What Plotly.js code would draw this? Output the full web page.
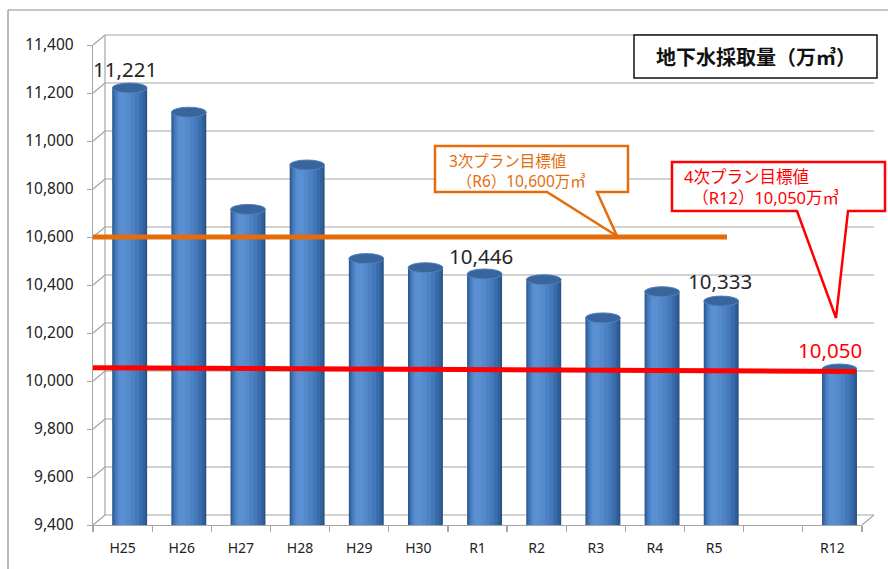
<!DOCTYPE html>
<html>
<head>
<meta charset="utf-8">
<script src="https://cdn.plot.ly/plotly-3.0.1.min.js"></script>
<style>html,body{margin:0;padding:0;background:#fff;}#chart{width:888px;height:569px;}</style>
</head>
<body>
<div id="chart"></div>
<script>
// ---- data ----
var categories = ["H25","H26","H27","H28","H29","H30","R1","R2","R3","R4","R5"," ","R12"];
var values = [11221, 11120, 10715, 10900, 10510, 10472, 10446, 10422, 10263, 10372, 10333, null, 10050];
var labelIndex = [0, 6, 10, 12];
var labelText = ["11,221", "10,446", "10,333", "10,050"];
var yTicks = [9400, 9600, 9800, 10000, 10200, 10400, 10600, 10800, 11000, 11200, 11400];
var plan3Value = 10600;
var plan4Value = 10050;
var chartTitle = "地下水採取量（万㎥）";
var plan3Lines = ["3次プラン目標値", "（R6）10,600万㎥"];
var plan4Lines = ["4次プラン目標値", "（R12）10,050万㎥"];

// ---- geometry helpers (plot area pixels) ----
var L = 93, R = 862, T = 45, B = 525;
var W = R - L, H = B - T;
var yMin = 9400, yMax = 11400;
function fx(px){ return (px - L) / W; }
function fy(py){ return (B - py) / H; }
function vy(v){ return (v - yMin) / (yMax - yMin); }
var dX = 12 / W, dY = 10 / H;

// ---- bars: layered to fake a cylinder gradient ----
var layers = [
  {off:-0.175, w:0.59, c:"#2A5284"},
  {off:-0.163, w:0.55, c:"#31619C"},
  {off:-0.148, w:0.49, c:"#3A6CAC"},
  {off:-0.128, w:0.41, c:"#4378BA"},
  {off:-0.105, w:0.32, c:"#4C82C4"},
  {off:-0.080, w:0.22, c:"#548ACC"},
  {off:-0.055, w:0.12, c:"#5A90D2"}
];
var traces = layers.map(function(l){
  return {type:"bar", x:categories, y:values, offset:l.off, width:l.w,
          marker:{color:l.c, line:{width:0}}, hoverinfo:"skip", showlegend:false};
});

var shapes = [];
// outer frame
shapes.push({type:"line", xref:"paper", yref:"paper", x0:fx(8), x1:fx(888), y0:fy(10), y1:fy(10), line:{color:"#8C8C8C", width:1.2}, layer:"below"});
shapes.push({type:"line", xref:"paper", yref:"paper", x0:fx(8), x1:fx(8), y0:fy(10), y1:fy(569), line:{color:"#8C8C8C", width:1.2}, layer:"below"});
// back wall gridlines + diagonal connectors
yTicks.forEach(function(v){
  shapes.push({type:"line", xref:"paper", yref:"paper", x0:dX, x1:1+dX, y0:vy(v)+dY, y1:vy(v)+dY, line:{color:"#A6A6A6", width:1.2}, layer:"below"});
  shapes.push({type:"line", xref:"paper", yref:"paper", x0:0, x1:dX, y0:vy(v), y1:vy(v)+dY, line:{color:"#A6A6A6", width:1.2}, layer:"below"});
});
// back wall left edge
shapes.push({type:"line", xref:"paper", yref:"paper", x0:dX, x1:dX, y0:dY, y1:1+dY, line:{color:"#A6A6A6", width:1.2}, layer:"below"});
// floor right edge
shapes.push({type:"line", xref:"paper", yref:"paper", x0:1, x1:1+dX, y0:0, y1:dY, line:{color:"#A6A6A6", width:1.2}, layer:"below"});

// bar top ellipses
values.forEach(function(v, i){
  if (v === null) return;
  shapes.push({type:"circle", xref:"x", yref:"y", x0:i-0.175, x1:i+0.415,
    ysizemode:"pixel", yanchor:v, y0:-5, y1:5,
    fillcolor:"#3A659C", line:{color:"#5082BE", width:1}, layer:"above"});
});

// target lines
shapes.push({type:"line", xref:"paper", yref:"y", x0:0, x1:fx(727), y0:plan3Value, y1:plan3Value, line:{color:"#E46C0A", width:5}, layer:"above"});
shapes.push({type:"line", xref:"paper", yref:"y", x0:0, x1:fx(856), y0:plan4Value+5, y1:plan4Value-10, line:{color:"#FF0000", width:5}, layer:"above"});

// callouts
function pathFrom(pts){
  return pts.map(function(p, k){ return (k ? "L" : "M") + fx(p[0]).toFixed(4) + "," + fy(p[1]).toFixed(4); }).join(" ") + " Z";
}
var tip3 = B - (plan3Value - yMin) / (yMax - yMin) * H;
shapes.push({type:"path", xref:"paper", yref:"paper",
  path: pathFrom([[435,146],[628,146],[628,192],[597,192],[617,tip3-1],[547,192],[435,192]]),
  fillcolor:"#FFFFFF", line:{color:"#E46C0A", width:2.5}, layer:"above"});
shapes.push({type:"path", xref:"paper", yref:"paper",
  path: pathFrom([[672,162],[885,162],[885,211],[848,211],[836,318],[797,211],[672,211]]),
  fillcolor:"#FFFFFF", line:{color:"#FF0000", width:2.5}, layer:"above"});
// title box
shapes.push({type:"rect", xref:"paper", yref:"paper", x0:fx(634), x1:fx(877), y0:fy(35), y1:fy(78),
  fillcolor:"#FFFFFF", line:{color:"#111111", width:1.5}, layer:"above"});

var annotations = [];
var shifts = [[2,19],[3,18],[6,20],[-2,19]];
labelIndex.forEach(function(idx, k){
  annotations.push({xref:"x", yref:"y", x:categories[idx], y:values[idx], text:labelText[k],
    showarrow:false, xshift:shifts[k][0], yshift:shifts[k][1],
    font:{family:"'Noto Sans', 'Open Sans', sans-serif", size:20.5, color: idx === 12 ? "#FF0000" : "#262626"}});
});
var cjk = "'Noto Sans', 'Noto Sans CJK JP', sans-serif";
function cjkNote(text, px, py, size, color, anchor){
  return {xref:"paper", yref:"paper", x:fx(px), y:fy(py), xanchor:anchor || "left", yanchor:"middle",
    align:"left", text:text, showarrow:false, font:{family:cjk, size:size, color:color}};
}
annotations.push(cjkNote("<b>"+chartTitle+"</b>", 756, 57, 20, "#111", "center"));
annotations.push(cjkNote(plan3Lines[0] + "<br>\u2002" + plan3Lines[1], 447, 170.5, 15.5, "#E46C0A"));
annotations.push(cjkNote(plan4Lines[0] + "<br>\u2002" + plan4Lines[1], 682, 186.5, 16.5, "#FF0000"));

var layout = {
  width:888, height:569,
  margin:{l:L, r:888-R, t:T, b:569-B, pad:0},
  paper_bgcolor:"#FFFFFF", plot_bgcolor:"rgba(0,0,0,0)",
  barmode:"overlay", showlegend:false, hovermode:false,
  xaxis:{type:"category", categoryorder:"array", categoryarray:categories, range:[-0.5, 12.5],
    showgrid:false, zeroline:false, showline:true, linecolor:"#A6A6A6", linewidth:1.2,
    ticks:"outside", tickson:"boundaries", ticklen:6, tickcolor:"#A6A6A6", tickwidth:1.2,
    ticklabelstandoff:10,
    tickfont:{family:"'Noto Sans', 'Open Sans', sans-serif", size:14, color:"#222"}},
  yaxis:{range:[yMin, yMax], tickvals:yTicks, tickformat:",", showgrid:false, zeroline:false,
    showline:true, linecolor:"#A6A6A6", linewidth:1.2, ticks:"outside", ticklen:5, tickcolor:"#A6A6A6",
    ticklabelstandoff:10,
    tickfont:{family:"'Noto Sans', 'Open Sans', sans-serif", size:15.5, color:"#222"}},
  shapes:shapes, annotations:annotations
};
Plotly.newPlot("chart", traces, layout, {staticPlot:true, displayModeBar:false});
</script>
</body>
</html>
